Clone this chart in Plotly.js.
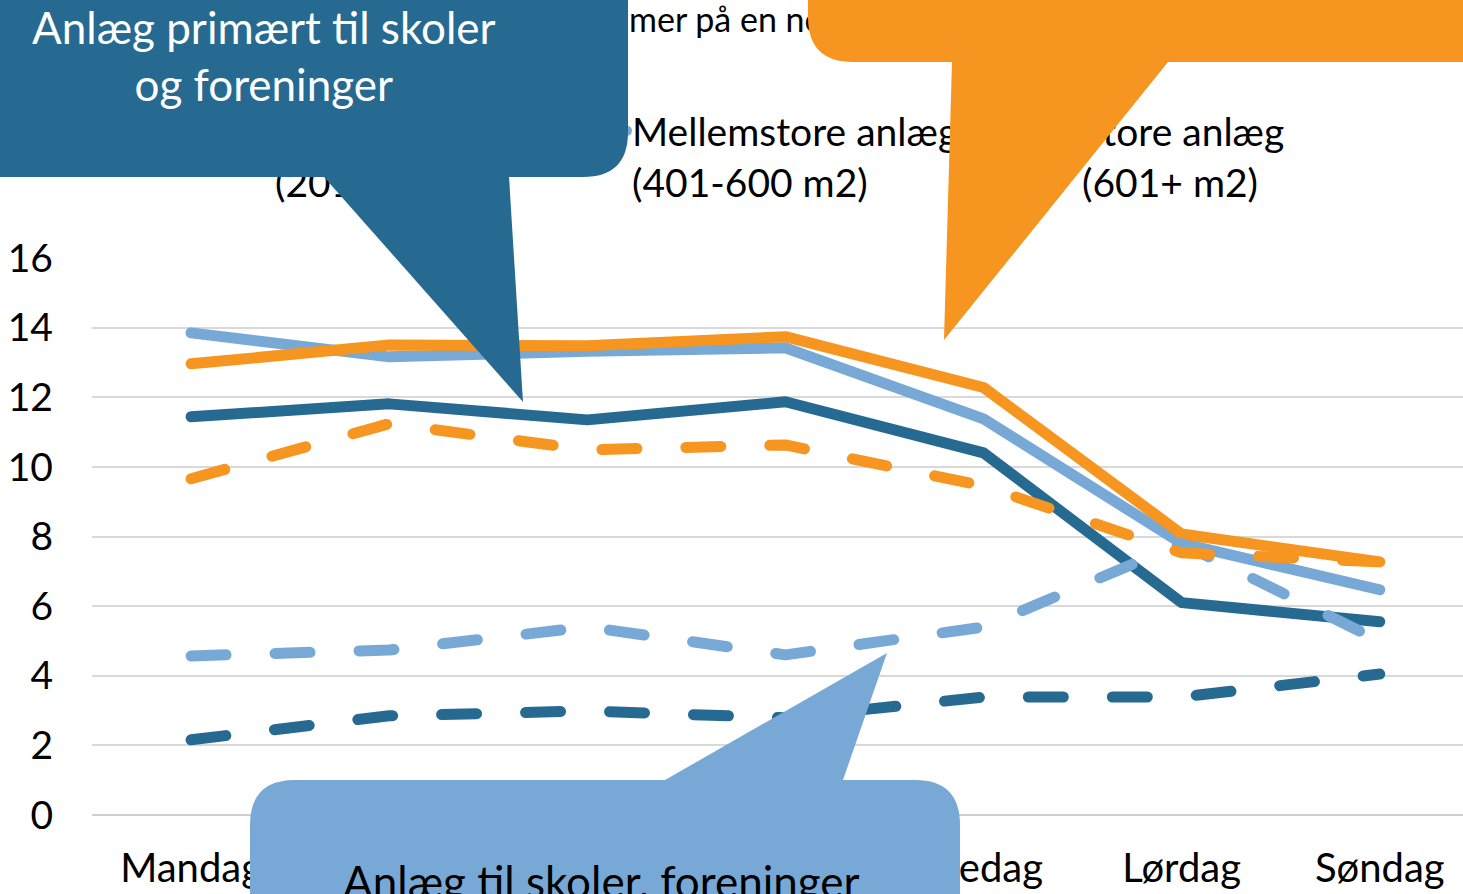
<!DOCTYPE html>
<html>
<head>
<meta charset="utf-8">
<script src="https://cdn.plot.ly/plotly-3.0.1.min.js"></script>
<style>
html,body{margin:0;padding:0;overflow:hidden;background:#fff;}
#chart,#callouts{position:absolute;left:0;top:0;width:1463px;height:894px;}
#callouts{pointer-events:none;}
#chart .scatterlayer .js-line{stroke-linecap:round;stroke-linejoin:round;}
#chart .legendlines path{stroke-linecap:round;}
</style>
</head>
<body>
<div id="chart"></div>
<div id="callouts"></div>
<script>
// ---- data ----
const days = ['Mandag', 'Tirsdag', 'Onsdag', 'Torsdag', 'Fredag', 'Lørdag', 'Søndag'];
const sizeNames = ['Mindre anlæg<br>(201-400 m2)', 'Mellemstore anlæg<br>(401-600 m2)', 'Store anlæg<br>(601+ m2)'];
// Anlæg primært til skoler og foreninger (solid lines)
const primarySmall  = [11.44, 11.81, 11.35, 11.87, 10.40, 6.10, 5.55];
const primaryMedium = [13.85, 13.16, 13.32, 13.42, 11.38, 7.80, 6.47];
const primaryLarge  = [12.96, 13.50, 13.48, 13.74, 12.28, 8.07, 7.27];
// Anlæg til skoler, foreninger ... (dashed lines)
const otherSmall  = [2.16, 2.85, 2.99, 2.79, 3.39, 3.39, 4.05];
const otherMedium = [4.57, 4.74, 5.40, 4.60, 5.40, 7.80, 5.00];
const otherLarge  = [9.66, 11.24, 10.49, 10.63, 9.45, 7.53, 7.27];
const yTicks = [0, 2, 4, 6, 8, 10, 12, 14, 16];
const titleText = 'Gennemsnitligt antal timer på en normal uge';
const calloutPrimary = 'Anlæg primært til skoler<br>og foreninger';
const calloutOther = 'Anlæg til skoler, foreninger';

// ---- styling ----
const W = 1463, H = 894;
const DARK = '#276A91', LIGHT = '#78A9D6', ORANGE = '#F6951F';
const FONT = 'Lato, "Open Sans", sans-serif';
const LW = 11;
const DASH = '35px,49px';

function tr(y, name, color, dash, legendId, show) {
  return {
    type: 'scatter', mode: 'lines', x: days, y: y, name: name,
    line: {color: color, width: LW, dash: dash},
    legend: legendId, showlegend: show, hoverinfo: 'skip'
  };
}

const data = [
  tr(primarySmall,  sizeNames[0], DARK,   'solid', 'legend',  true),
  tr(primaryMedium, sizeNames[1], LIGHT,  'solid', 'legend2', true),
  tr(primaryLarge,  sizeNames[2], ORANGE, 'solid', 'legend3', true),
  tr(otherSmall,    sizeNames[0], DARK,   DASH,    'legend',  false),
  tr(otherMedium,   sizeNames[1], LIGHT,  DASH,    'legend2', false),
  tr(otherLarge,    sizeNames[2], ORANGE, DASH,    'legend3', false)
];

// title placement: hidden prefix lies under the blue callout
const ctx = document.createElement('canvas').getContext('2d');
ctx.font = '34px Lato';
const prefixW = ctx.measureText('Gennemsnitligt antal ti').width;

function legendAt(px, py) {
  return {
    x: px / W, xref: 'container', y: 1 - py / H, yref: 'container',
    xanchor: 'left', yanchor: 'top', orientation: 'v', valign: 'top',
    font: {family: FONT, size: 39, color: '#000'},
    bgcolor: 'rgba(0,0,0,0)', borderwidth: 0
  };
}

const layout = {
  width: W, height: H,
  margin: {l: 92, r: 0, t: 258, b: 79, pad: 0, autoexpand: false},
  paper_bgcolor: '#fff', plot_bgcolor: '#fff',
  font: {family: FONT, color: '#000'},
  title: {
    text: titleText, font: {family: FONT, size: 34, color: '#000'},
    x: (629 - prefixW) / W, xanchor: 'left', xref: 'container',
    y: 1 - 8 / H, yanchor: 'top', yref: 'container'
  },
  xaxis: {
    type: 'category', range: [-0.5, 6.42], showgrid: false, zeroline: false,
    showline: false, ticks: '', tickangle: 0, tickfont: {family: FONT, size: 40, color: '#000'},
    ticklabelstandoff: 26, fixedrange: true
  },
  yaxis: {
    range: [0, 16], tickvals: yTicks, showgrid: true, gridcolor: '#D9D9D9', gridwidth: 2,
    zeroline: true, zerolinecolor: '#CFCFCF', zerolinewidth: 2, showline: false,
    ticks: '', tickfont: {family: FONT, size: 39, color: '#000'},
    ticklabelstandoff: 38, fixedrange: true
  },
  showlegend: true,
  legend: legendAt(235, 99),
  legend2: legendAt(592, 99),
  legend3: legendAt(1042, 99)
};

Plotly.newPlot('chart', data, layout, {staticPlot: true, displayModeBar: false});

// ---- callout overlay (drawn above the legend and title, as in the reference) ----
const overlayLayout = {
  width: W, height: H,
  margin: {l: 0, r: 0, t: 0, b: 0, pad: 0, autoexpand: false},
  paper_bgcolor: 'rgba(0,0,0,0)', plot_bgcolor: 'rgba(0,0,0,0)',
  showlegend: false,
  xaxis: {range: [0, W], visible: false, fixedrange: true},
  yaxis: {range: [H, 0], visible: false, fixedrange: true},
  shapes: [
    {type: 'path', xref: 'x', yref: 'y', fillcolor: DARK, line: {width: 0},
     path: 'M -200,-200 L 628,-200 L 628,132 Q 628,177 583,177 L 509,177 L 523,402 L 324,177 L -200,177 Z'},
    {type: 'path', xref: 'x', yref: 'y', fillcolor: ORANGE, line: {width: 0},
     path: 'M 808,-200 L 1700,-200 L 1700,62 L 1168,62 L 944,340 L 952,62 L 853,62 Q 808,62 808,17 Z'},
    {type: 'path', xref: 'x', yref: 'y', fillcolor: LIGHT, line: {width: 0},
     path: 'M 250,1100 L 250,825 Q 250,780 295,780 L 665,780 L 887,653 L 843,780 L 915,780 Q 960,780 960,825 L 960,1100 Z'}
  ],
  annotations: [
    {text: calloutPrimary, x: 264, y: 55, xref: 'x', yref: 'y', showarrow: false,
     xanchor: 'center', yanchor: 'middle', align: 'center',
     font: {family: FONT, size: 44, color: '#fff'}},
    {text: calloutOther, x: 601, y: 881, xref: 'x', yref: 'y', showarrow: false,
     xanchor: 'center', yanchor: 'middle', align: 'center',
     font: {family: FONT, size: 44, color: '#000'}}
  ]
};
Plotly.newPlot('callouts', [], overlayLayout, {staticPlot: true, displayModeBar: false});
</script>
</body>
</html>
